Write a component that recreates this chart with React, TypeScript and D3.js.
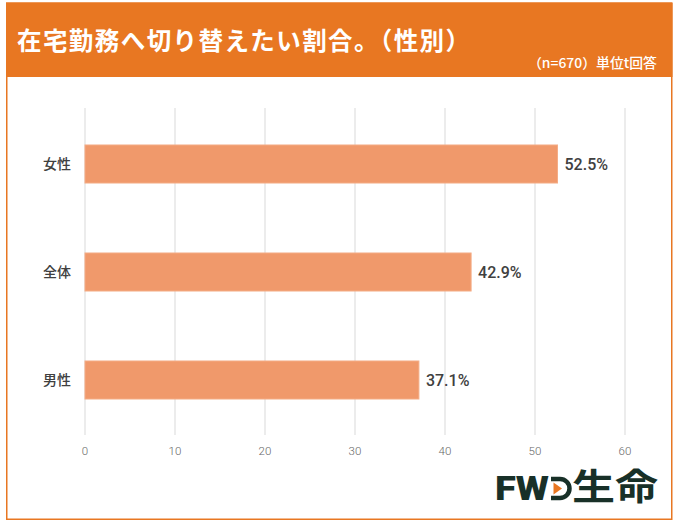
import React from "react";
import * as d3 from "d3";

const categories = ["女性", "全体", "男性"];
const values = [52.5, 42.9, 37.1];
const xTicks = [0, 10, 20, 30, 40, 50, 60];
const title = "在宅勤務へ切り替えたい割合。（性別）";
const subtitle = "（n=670）単位t回答";

const W = 676;
const H = 521;
const ORANGE = "#E87722";
const BAR = "#F0996B";
const JP = "'Noto Sans CJK JP', 'Noto Sans', sans-serif";

export default function App() {
  const x = d3.scaleLinear().domain([0, 60]).range([85, 625]);
  const y = d3.scaleBand<string>().domain(categories).range([110, 434]).paddingInner(0.648).paddingOuter(0.324);
  const gridTop = 108;
  const gridBottom = 435;

  return (
    <svg width={W} height={H} style={{ position: "absolute", left: 0, top: 0, background: "#fff" }}>
      <rect x={0} y={0} width={W} height={H} fill="#fff" />
      <rect x={6.75} y={3} width={665} height={516.25} fill="none" stroke={ORANGE} strokeWidth={1.5} />
      <rect x={6} y={3} width={666.5} height={74} fill={ORANGE} />
      <text x={17} y={50} fill="#fff" fontFamily={JP} fontWeight={700} fontSize={24.5} textLength={453} lengthAdjust="spacing">
        {title}
      </text>
      <text x={528} y={68} fill="#fff" fontFamily={JP} fontWeight={500} fontSize={13.5} textLength={129} lengthAdjust="spacingAndGlyphs">
        {subtitle}
      </text>

      {xTicks.map((t) => (
        <g key={t}>
          <line x1={x(t)} x2={x(t)} y1={gridTop} y2={gridBottom} stroke="#d9d9d9" strokeWidth={1} />
          <text x={x(t)} y={455} textAnchor="middle" fontFamily="Roboto, sans-serif" fontWeight={300} fontSize={11.5} fill="#666">
            {t}
          </text>
        </g>
      ))}

      {categories.map((c, i) => {
        const by = y(c)!;
        const bh = y.bandwidth();
        return (
          <g key={c}>
            <rect x={x(0)} y={by} width={x(values[i]) - x(0)} height={bh} fill={BAR} stroke="#F4AC86" strokeWidth={1} />
            <text x={71} y={by + bh / 2} dy="0.36em" textAnchor="end" fontFamily={JP} fontWeight={500} fontSize={14} fill="#404040">
              {c}
            </text>
            <text x={x(values[i]) + 7} y={by + bh / 2} dy="0.36em" fontFamily="Roboto, sans-serif" fontWeight={500} fontSize={16} fill="#404040">
              {values[i].toFixed(1)}%
            </text>
          </g>
        );
      })}

      <g>
        <text x={495} y={500} fontFamily="Roboto, sans-serif" fontWeight={900} fontSize={33} fill="#183028" textLength={54} lengthAdjust="spacingAndGlyphs">
          FW
        </text>
        <path d="M551,479 H560 A9.5,9.5 0 0 1 560,498 H551" fill="none" stroke="#183028" strokeWidth={4.5} />
        <path d="M553.5,482.5 L562,488.5 L553.5,494.5 Z" fill={ORANGE} />
        <text x={572} y={500} fontFamily={JP} fontWeight={700} fontSize={36} fill="#183028" textLength={86} lengthAdjust="spacingAndGlyphs">
          生命
        </text>
      </g>
    </svg>
  );
}
